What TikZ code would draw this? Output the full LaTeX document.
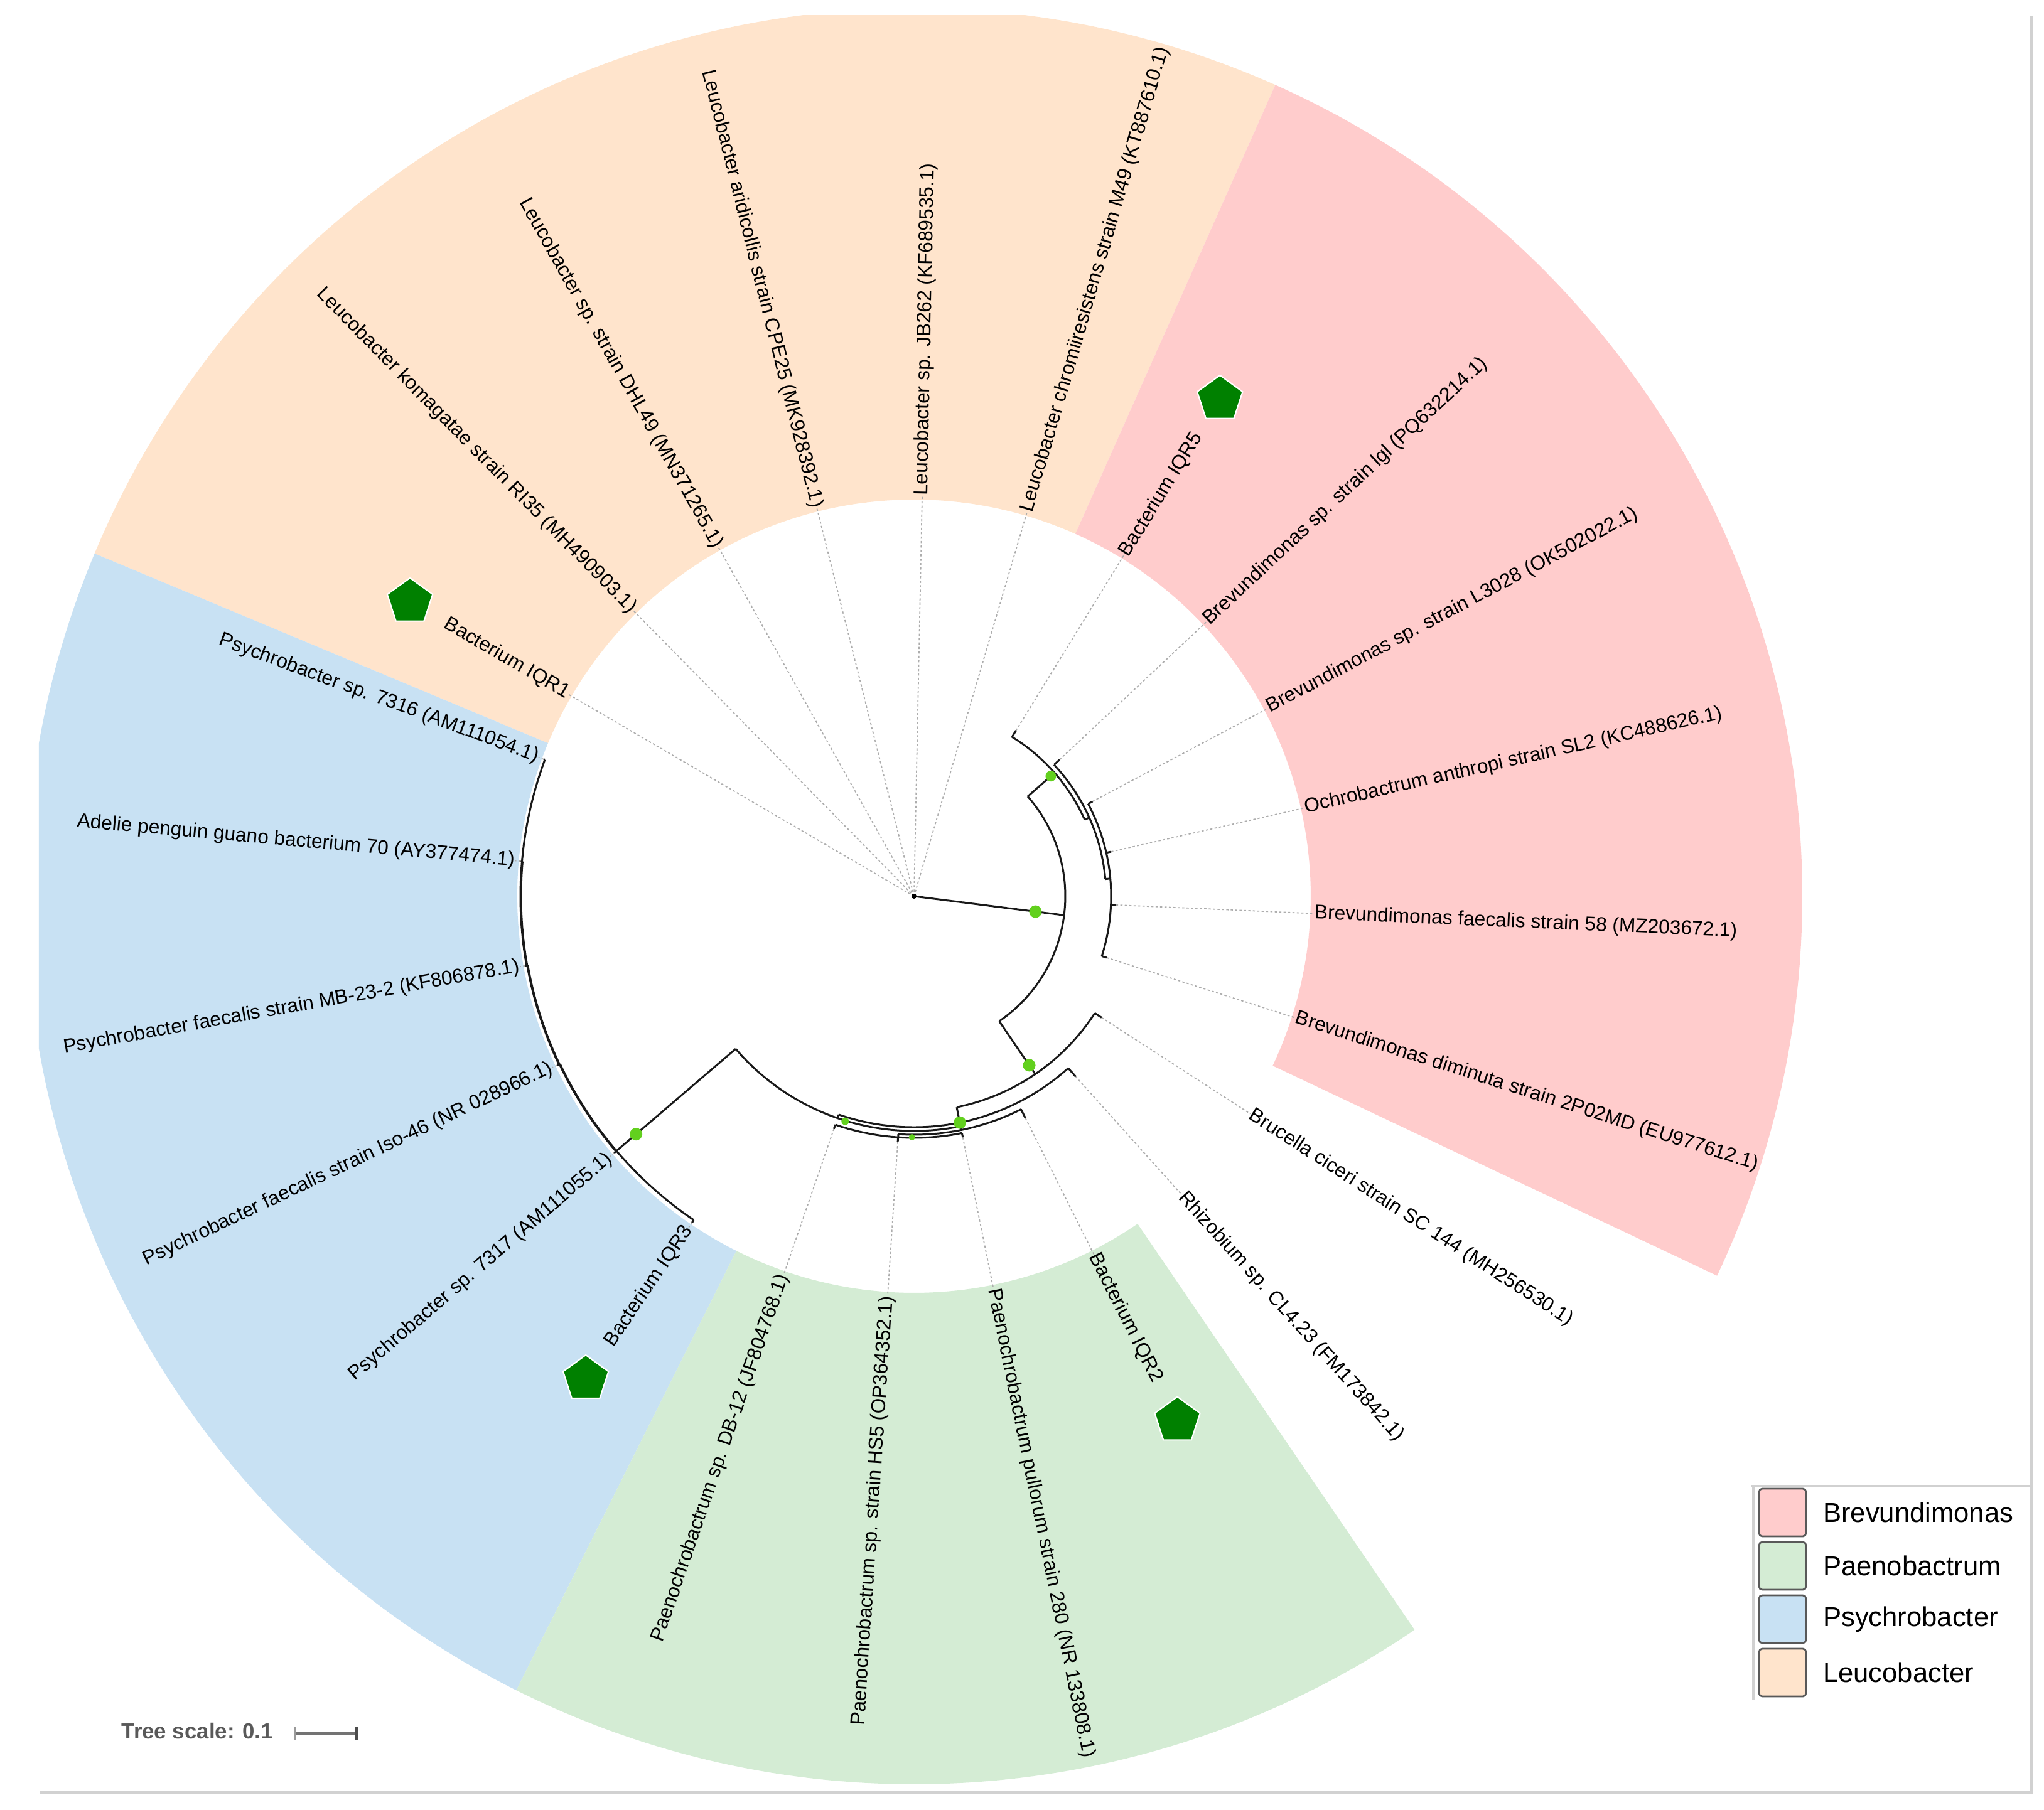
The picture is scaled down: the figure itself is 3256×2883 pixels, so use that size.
\documentclass[tikz,border=0pt]{standalone}
\usepackage{fontspec}
\setmainfont{Liberation Sans}
\usetikzlibrary{positioning, shapes.geometric}

\definecolor{brevcol}{RGB}{255,204,204}
\definecolor{paencol}{RGB}{212,236,212}
\definecolor{psycol}{RGB}{200,225,243}
\definecolor{leucol}{RGB}{255,228,204}
\definecolor{bootgreen}{RGB}{98,208,30}
\definecolor{isogreen}{RGB}{0,128,0}

\begin{document}
\begin{tikzpicture}[x=0.01cm, y=0.01cm,
    leaflabel/.style={inner sep=0pt, font=\fontsize{9}{10}\selectfont, text=black},
    leafdot/.style={black!32, line width=0.5pt, dash pattern=on 1pt off 1pt},
    branch/.style={black!90, line width=0.85pt},
    boot/.style={circle, fill=bootgreen, inner sep=0pt, minimum size=#1},
    isolate/.style={regular polygon, regular polygon sides=5, fill=isogreen, draw=white, line width=0.6pt, inner sep=0pt, minimum size=0.76cm},
    swatch/.style={draw=black!65, line width=0.8pt, rounded corners=1.5pt, minimum width=0.75cm, minimum height=0.76cm, inner sep=0pt},
    legendtext/.style={font=\fontsize{12.4}{14}\selectfont, inner sep=0pt},
    frameline/.style={black!18, line width=1.1pt}]
\useasboundingbox (-1456,-1455) rectangle (1800,1428);

\begin{scope}
\clip (-1394,-1428) rectangle (1780,1403);
\foreach \a/\b/\c in {66/157.3/leucol, 157.3/243.4/psycol, 243.4/304.3/paencol, -25.3/66/brevcol}
  \fill[\c] (\a:632) arc[start angle=\a, end angle=\b, radius=632] -- (\b:1415) arc[start angle=\b, end angle=\a, radius=1415] -- cycle;
\end{scope}

\foreach \i/\pr/\tr/\lab in {
  0/0/0/Bacterium IQR1,
  1/0/0/Leucobacter komagatae strain RI35 (MH490903.1),
  2/0/0/Leucobacter sp. strain DHL49 (MN371265.1),
  3/0/0/Leucobacter aridicollis strain CPE25 (MK928392.1),
  4/0/0/Leucobacter sp. JB262 (KF689535.1),
  5/0/0/Leucobacter chromiiresistens strain M49 (KT887610.1),
  6/298/310/Bacterium IQR5,
  7/306/318/Brevundimonas sp. strain lgl (PQ632214.1),
  8/314/322/Brevundimonas sp. strain L3028 (OK502022.1),
  9/314/322/Ochrobactrum anthropi strain SL2 (KC488626.1),
  10/314/322/Brevundimonas faecalis strain 58 (MZ203672.1),
  11/314/322/Brevundimonas diminuta strain 2P02MD (EU977612.1),
  12/343/356/Brucella ciceri strain SC 144 (MH256530.1),
  13/368/386/Rhizobium sp. CL4.23 (FM173842.1),
  14/380/396/Bacterium IQR2,
  15/385/392/Paenochrobactrum pullorum strain 280 (NR 133808.1),
  16/385/392/Paenochrobactrum sp. strain HS5 (OP364352.1),
  17/385/392/Paenochrobactrum sp. DB-12 (JF804768.1),
  18/624/629/Bacterium IQR3,
  19/625/629/Psychrobacter sp. 7317 (AM111055.1),
  20/626/629/Psychrobacter faecalis strain Iso-46 (NR 028966.1),
  21/627/629/Psychrobacter faecalis strain MB-23-2 (KF806878.1),
  22/627/629/Adelie penguin guano bacterium 70 (AY377474.1),
  23/627/629/Psychrobacter sp. 7316 (AM111054.1)}
{
  \pgfmathsetmacro{\ang}{149.7-15.2174*\i}
  \pgfmathsetmacro{\flip}{cos(\ang)<0}
  \coordinate (b\i) at (\ang:\pr);
  \coordinate (t\i) at (\ang:\tr);
  \coordinate (e\i) at (\ang:638);
  \draw[leafdot] (t\i) -- (e\i);
  \draw[branch] (b\i) -- (t\i);
  \ifdim\flip pt>0.5pt
    \node[leaflabel, anchor=east, rotate=\ang+180] (l\i) at (e\i) {\lab};
  \else
    \node[leaflabel, anchor=west, rotate=\ang] (l\i) at (e\i) {\lab};
  \fi
}

\foreach \n/\a/\r/\pr/\s/\e in {
  n1/-7.22/241/0/41.28/-55.73,
  n2/41.28/298/241/58.40/24.16,
  n3/24.16/306/298/43.18/5.14,
  n4/5.14/314/306/27.96/-17.69,
  n5/-55.73/343/241/-32.90/-78.56,
  n6/-78.56/368/343/-48.12/-109.0,
  n7/-109.0/374/368/-78.56/-139.43,
  n8/-78.56/380/374/-63.34/-93.77,
  n9/-93.77/385/380/-78.56/-108.99,
  p1/-139.43/624/374/-124.21/-154.64,
  p2/-154.64/625/624/-139.42/-169.86,
  p3/-169.86/626/625/-154.64/-185.08,
  p4/-185.08/627/626/-169.86/-200.30}
{
  \coordinate (\n) at (\a:\r);
  \coordinate (\n b) at (\a:\pr);
  \draw[branch] (\n b) -- (\n);
  \draw[branch] (\s:\r) arc[start angle=\s, end angle=\e, radius=\r];
}
\fill[black] (0,0) circle[radius=4];

\node[boot=0.2cm] (g1) at (-7.22:195) {};
\node[boot=0.17cm] (g2) at (41.28:290) {};
\node[boot=0.2cm] (g3) at (-55.73:326) {};
\node[boot=0.2cm] (g4) at (-78.56:368) {};
\node[boot=0.12cm] (g5) at (-107:375) {};
\node[boot=0.1cm] (g6) at (-90.5:384) {};
\node[boot=0.2cm] (g7) at (-139.43:583) {};

\node[isolate] (iqr1) at (149.7:930) {};
\node[isolate] (iqr5) at (58.4:930) {};
\node[isolate] (iqr3) at (-124.21:930) {};
\node[isolate] (iqr2) at (-63.34:935) {};

\draw[frameline] (1780,1403) -- (1780,-1428) -- (-1392,-1428);
\draw[frameline] (1334,-940) -- (1780,-940);
\draw[frameline] (1337,-940) -- (1337,-1280);
\foreach \k/\c/\t in {0/brevcol/Brevundimonas, 1/paencol/Paenobactrum, 2/psycol/Psychrobacter, 3/leucol/Leucobacter}
{
  \node[swatch, fill=\c] (sw\k) at (1383.5,-982-85*\k) {};
  \node[legendtext, right=0.25cm of sw\k] (lg\k) {\t};
}

\node[font=\bfseries\fontsize{9.9}{11}\selectfont, text=black!65, anchor=base west, inner sep=0pt] (ts) at (-1263,-1342) {Tree scale: 0.1};
\coordinate (sb1) at (-986,-1334);
\coordinate (sb2) at (-888,-1334);
\draw[black!55, line width=0.9pt] (sb1) -- (sb2);
\draw[black!40, line width=0.9pt] ([yshift=0.1cm]sb1) -- ([yshift=-0.1cm]sb1);
\draw[black!70, line width=0.9pt] ([yshift=0.1cm]sb2) -- ([yshift=-0.1cm]sb2);
\end{tikzpicture}
\end{document}
